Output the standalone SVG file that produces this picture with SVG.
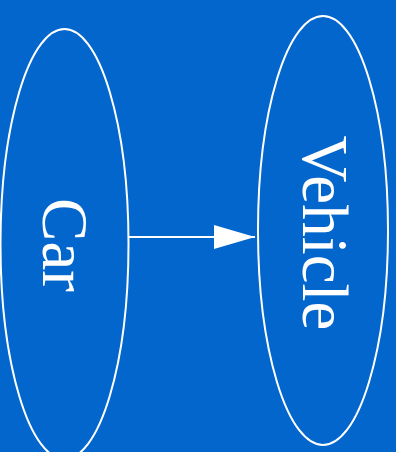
<svg xmlns="http://www.w3.org/2000/svg" width="396" height="452" viewBox="0 0 396 452">
<style>
.node ellipse{fill:none;stroke:#ffffff;stroke-width:2}
.node text{fill:#ffffff;font-family:"Liberation Serif","Times New Roman",serif;font-size:65px;text-anchor:middle}
.edge line{stroke:#ffffff;stroke-width:2}
</style>
<defs>
<marker id="ah" markerUnits="userSpaceOnUse" markerWidth="42" markerHeight="24" refX="41" refY="12" orient="auto">
<polygon points="0,0 41,12 0,24" fill="#ffffff"/>
</marker>
</defs>
<rect width="396" height="452" fill="#0366cc"/>
<g id="car" class="node">
<ellipse cx="64.5" cy="244" rx="64" ry="215"/>
<text transform="translate(43,245) rotate(90)">Car</text>
</g>
<g id="vehicle" class="node">
<ellipse cx="323" cy="230.5" rx="65" ry="214.5"/>
<text transform="translate(303,233) rotate(90)">Vehicle</text>
</g>
<g id="connectors" class="edge">
<line x1="128.5" y1="237" x2="255" y2="237" marker-end="url(#ah)"/>
</g>
</svg>
